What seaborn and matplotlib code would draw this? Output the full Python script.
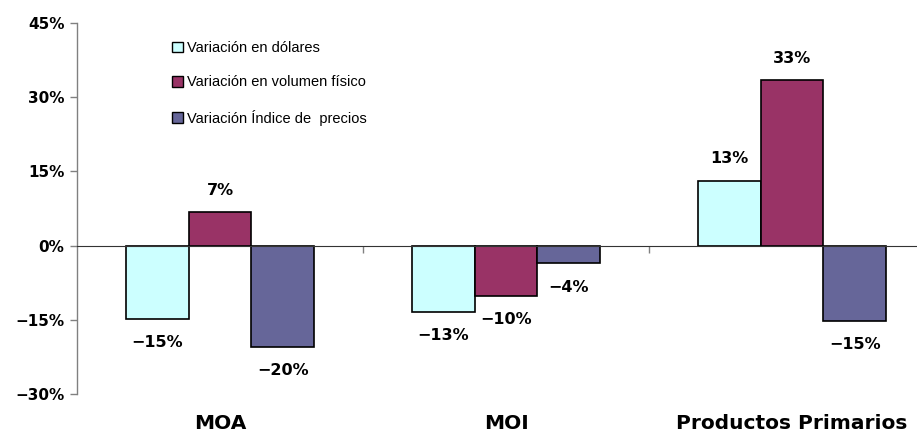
import matplotlib
matplotlib.use("Agg")
import matplotlib.pyplot as plt
import pandas as pd
import seaborn as sns
from matplotlib.patches import Patch
from matplotlib.ticker import FuncFormatter, FixedLocator

categorias = ["MOA", "MOI", "Productos Primarios"]
series = ["Variación en dólares", "Variación en volumen físico", "Variación Índice de  precios"]
var_dolares = [-14.9, -13.4, 13.1]
var_volumen = [6.7, -10.1, 33.4]
var_precios = [-20.4, -3.6, -15.2]
y_ticks = [-30, -15, 0, 15, 30, 45]
colores = ["#CCFFFF", "#993366", "#666699"]

sns.set_theme(style="white")
plt.rcParams["font.family"] = ["DejaVu Sans"]
plt.rcParams["axes.unicode_minus"] = True
plt.rcParams["text.color"] = "black"
plt.rcParams["xtick.color"] = "black"
plt.rcParams["ytick.color"] = "black"

df = pd.DataFrame({
    "categoria": categorias * 3,
    "serie": [s for s in series for _ in categorias],
    "valor": var_dolares + var_volumen + var_precios,
})

fig = plt.figure(figsize=(9.17, 4.34), dpi=100)
ax = fig.add_axes([77 / 917, 1 - 394 / 434, 858 / 917, 371 / 434])

sns.barplot(data=df, x="categoria", y="valor", hue="serie", hue_order=series,
            order=categorias, palette=colores, edgecolor="black", linewidth=1.2,
            width=0.66, saturation=1, legend=False, ax=ax)

# etiquetas de datos
for cont in ax.containers:
    for bar in cont:
        v = bar.get_height()
        x = bar.get_x() + bar.get_width() / 2
        off = 16 if v >= 0 else -17
        txt = f"{v:.0f}%".replace("-", "\u2212")
        ax.annotate(txt, (x, v), xytext=(0, off), textcoords="offset points",
                    ha="center", va="center", fontsize=11.5, fontweight="bold", color="black")

ax.set_xlim(-0.5, 2.5)
ax.set_ylim(-30, 45)
ax.yaxis.set_major_locator(FixedLocator(y_ticks))
ax.yaxis.set_major_formatter(FuncFormatter(lambda v, p: f"{v:.0f}%".replace("-", "\u2212")))
ax.tick_params(axis="y", which="major", left=True, length=5, width=1, color="#808080",
               labelcolor="black", direction="out", pad=4, labelsize=11)
for lab in ax.get_yticklabels():
    lab.set_fontweight("bold")

for s in ["top", "right"]:
    ax.spines[s].set_visible(False)
ax.spines["left"].set_color("#808080")
ax.spines["left"].set_linewidth(1)
ax.spines["bottom"].set_position(("data", 0))
ax.spines["bottom"].set_color("#333333")
ax.spines["bottom"].set_linewidth(0.8)

ax.set_xticks([0.5, 1.5], minor=True)
ax.tick_params(axis="x", which="minor", bottom=True, length=5, width=1, color="#808080", direction="out")
ax.tick_params(axis="x", which="major", length=0, pad=121, labelsize=14.5, labelcolor="black")
for lab in ax.get_xticklabels():
    lab.set_fontweight("bold")
ax.set_xlabel("")
ax.set_ylabel("")

handles = [Patch(facecolor=c, edgecolor="black", linewidth=1) for c in colores]
ax.legend(handles, series, loc="upper left", bbox_to_anchor=(0.1045, 0.967), frameon=False,
          prop={"family": "Liberation Sans", "size": 10.5}, handlelength=0.75, handleheight=0.75,
          handletextpad=0.25, labelspacing=1.4, borderaxespad=0)

fig.savefig("out.png", dpi=100)
